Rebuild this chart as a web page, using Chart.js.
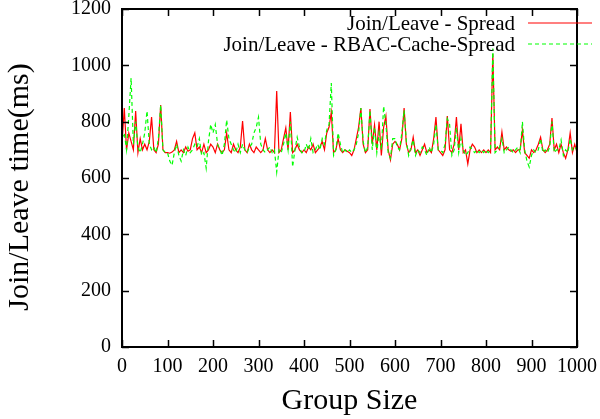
<!DOCTYPE html>
<html lang="en">
<head>
    <meta charset="UTF-8">
    <title>Join/Leave time</title>
    <style>
        html, body { margin: 0; padding: 0; background: #fff; }
        #wrap { width: 600px; height: 419px; }
    </style>
</head>
<body>
    <div id="wrap"><canvas id="myChart" width="600" height="419"></canvas></div>

    <script src="https://cdn.jsdelivr.net/npm/chart.js"></script>
    <script>
        // group sizes 0..1000, one sample every 5
        const groupSizes = Array.from({ length: 201 }, (_, i) => i * 5);

        const spreadTimes = [
            720, 848, 700, 760, 730, 700, 838, 690, 740, 700, 720, 700, 730, 816, 700, 690, 720, 859, 700, 690,
            690, 688, 692, 700, 730, 690, 700, 690, 710, 695, 700, 740, 760, 700, 710, 690, 720, 690, 700, 720,
            710, 690, 720, 700, 690, 700, 760, 700, 690, 720, 700, 690, 710, 802, 700, 690, 720, 700, 690, 710,
            700, 690, 700, 740, 700, 690, 700, 690, 909, 690, 700, 740, 778, 700, 834, 690, 700, 720, 700, 690,
            700, 690, 710, 700, 720, 690, 700, 710, 730, 700, 760, 780, 834, 690, 700, 740, 700, 690, 700, 695,
            690, 680, 700, 740, 780, 848, 720, 690, 700, 845, 720, 788, 700, 800, 680, 780, 820, 700, 664, 720,
            730, 720, 700, 740, 848, 720, 690, 700, 745, 690, 700, 680, 700, 720, 690, 700, 690, 740, 816, 700,
            690, 680, 700, 820, 700, 690, 720, 816, 700, 792, 690, 700, 650, 700, 720, 710, 690, 700, 690, 700,
            690, 700, 690, 1040, 700, 710, 700, 763, 700, 710, 700, 695, 700, 690, 700, 700, 770, 690, 680, 670,
            700, 690, 700, 720, 745, 700, 690, 700, 720, 813, 700, 720, 690, 720, 690, 670, 700, 760, 690, 720,
            690
        ];

        const rbacCacheTimes = [
            740, 760, 700, 820, 955, 720, 800, 710, 690, 720, 760, 838, 720, 700, 710, 690, 740, 859, 700, 690,
            690, 660, 645, 690, 720, 680, 660, 700, 680, 710, 690, 700, 720, 710, 740, 680, 690, 635, 730, 790,
            760, 790, 720, 700, 680, 720, 806, 740, 720, 700, 690, 720, 690, 720, 700, 690, 710, 720, 760, 780,
            816, 720, 700, 690, 700, 710, 690, 700, 621, 700, 690, 720, 760, 700, 800, 639, 700, 745, 710, 690,
            690, 720, 700, 740, 690, 700, 720, 700, 740, 720, 770, 790, 937, 680, 700, 760, 720, 690, 700, 690,
            700, 690, 700, 720, 760, 848, 730, 690, 710, 840, 700, 780, 690, 760, 700, 855, 790, 690, 670, 740,
            740, 710, 700, 760, 840, 730, 680, 710, 735, 680, 700, 690, 710, 700, 680, 710, 690, 720, 790, 700,
            700, 690, 720, 810, 790, 680, 700, 780, 690, 740, 700, 680, 690, 710, 700, 690, 700, 690, 700, 690,
            700, 690, 700, 1060, 690, 700, 710, 740, 690, 700, 710, 700, 690, 700, 710, 690, 800, 700, 660, 639,
            680, 700, 690, 700, 740, 690, 700, 690, 710, 800, 690, 700, 700, 735, 680, 700, 690, 740, 700, 710,
            700
        ];

        const xTicks = [0, 100, 200, 300, 400, 500, 600, 700, 800, 900, 1000];
        const yTicks = [0, 200, 400, 600, 800, 1000, 1200];

        const spreadColor = '#ff0000';
        const rbacColor = '#00ff00';
        const rbacDash = [4, 3];
        const yTitle = 'Join/Leave time(ms)';

        const serif = '"Liberation Serif", "DejaVu Serif", serif';

        // gnuplot style frame with inward tics on all four sides, plus the key
        const gnuplotFrame = {
            id: 'gnuplotFrame',
            afterDatasetsDraw(chart) {
                const ctx = chart.ctx;
                const a = chart.chartArea;
                const xs = chart.scales.x, ys = chart.scales.y;
                const tic = 7;
                ctx.save();
                ctx.strokeStyle = '#000';
                ctx.lineWidth = 1.5;
                ctx.beginPath();
                xs.ticks.forEach(t => {
                    const px = Math.round(xs.getPixelForValue(t.value)) + 0.5;
                    ctx.moveTo(px, a.bottom); ctx.lineTo(px, a.bottom - tic);
                    ctx.moveTo(px, a.top); ctx.lineTo(px, a.top + tic);
                });
                ys.ticks.forEach(t => {
                    const py = Math.round(ys.getPixelForValue(t.value)) + 0.5;
                    ctx.moveTo(a.left, py); ctx.lineTo(a.left + tic, py);
                    ctx.moveTo(a.right, py); ctx.lineTo(a.right - tic, py);
                });
                ctx.stroke();
                ctx.lineWidth = 2;
                ctx.strokeRect(a.left, a.top, a.right - a.left, a.bottom - a.top);
                ctx.restore();
            },
            afterDraw(chart) {
                const ctx = chart.ctx;
                const a = chart.chartArea;

                // y label, sitting a little below the middle like gnuplot's
                ctx.save();
                ctx.font = '30px ' + serif;
                ctx.fillStyle = '#000';
                ctx.textAlign = 'center';
                ctx.textBaseline = 'middle';
                ctx.translate(20, (a.top + a.bottom) / 2 + 9);
                ctx.rotate(-Math.PI / 2);
                ctx.fillText(yTitle, 0, 0);
                ctx.restore();

                const textRight = 515, lineL = 528, lineR = 592;
                const keys = [
                    { label: chart.data.datasets[1].label, color: spreadColor, dash: [] },
                    { label: chart.data.datasets[0].label, color: rbacColor, dash: rbacDash }
                ];
                ctx.save();
                ctx.font = '21px ' + serif;
                ctx.textAlign = 'right';
                ctx.textBaseline = 'middle';
                keys.forEach((k, i) => {
                    const y = 23 + i * 21;
                    ctx.fillStyle = '#000';
                    ctx.fillText(k.label, textRight, y + 1);
                    ctx.strokeStyle = k.color;
                    ctx.lineWidth = 1.2;
                    ctx.setLineDash(k.dash);
                    ctx.beginPath();
                    ctx.moveTo(lineL, y);
                    ctx.lineTo(lineR, y);
                    ctx.stroke();
                });
                ctx.restore();
            }
        };

        const ctx = document.getElementById('myChart').getContext('2d');
        const myChart = new Chart(ctx, {
            type: 'line',
            data: {
                datasets: [{
                    label: 'Join/Leave - RBAC-Cache-Spread',
                    data: groupSizes.map((g, i) => ({ x: g, y: rbacCacheTimes[i] })),
                    borderColor: rbacColor,
                    borderWidth: 1.2,
                    borderDash: rbacDash,
                    pointRadius: 0,
                    tension: 0,
                    fill: false,
                    order: 0
                }, {
                    label: 'Join/Leave - Spread',
                    data: groupSizes.map((g, i) => ({ x: g, y: spreadTimes[i] })),
                    borderColor: spreadColor,
                    borderWidth: 1.2,
                    pointRadius: 0,
                    tension: 0,
                    fill: false,
                    order: 1
                }]
            },
            options: {
                responsive: false,
                animation: false,
                events: [],
                layout: { padding: { top: 9, right: 23, left: 0, bottom: 0 } },
                plugins: {
                    legend: { display: false },
                    tooltip: { enabled: false }
                },
                scales: {
                    x: {
                        type: 'linear',
                        min: 0,
                        max: 1000,
                        afterBuildTicks: s => { s.ticks = xTicks.map(v => ({ value: v })); },
                        afterFit: s => {
                            s.height = 72;
                            s.paddingLeft = 0;
                            s.paddingRight = 0;
                        },
                        grid: { display: false, drawTicks: false },
                        border: { display: false },
                        ticks: {
                            color: '#000',
                            padding: 8,
                            maxRotation: 0,
                            autoSkip: false,
                            callback: v => String(v),
                            font: { family: serif, size: 20 }
                        },
                        title: {
                            display: true,
                            text: 'Group Size',
                            color: '#000',
                            font: { family: serif, size: 30, lineHeight: 1 },
                            padding: { top: 0, bottom: 3 }
                        }
                    },
                    y: {
                        min: 0,
                        max: 1200,
                        afterBuildTicks: s => { s.ticks = yTicks.map(v => ({ value: v })); },
                        afterFit: s => {
                            s.width = 122;
                            s.paddingTop = 0;
                            s.paddingBottom = 0;
                        },
                        grid: { display: false, drawTicks: false },
                        border: { display: false },
                        ticks: {
                            color: '#000',
                            padding: 11,
                            autoSkip: false,
                            callback: v => String(v),
                            font: { family: serif, size: 20 }
                        },
                        title: { display: false }
                    }
                }
            },
            plugins: [gnuplotFrame]
        });
    </script>
</body>
</html>
